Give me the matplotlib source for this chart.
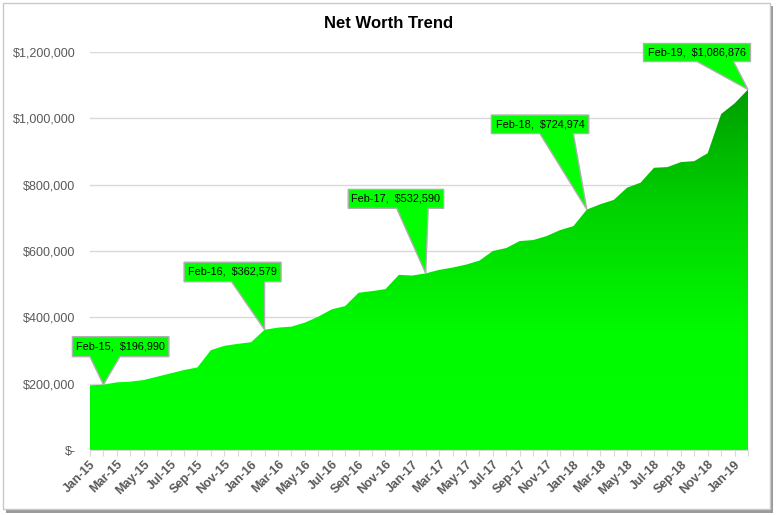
import numpy as np
import pandas as pd
import matplotlib
matplotlib.use("Agg")
import matplotlib.pyplot as plt
import matplotlib.transforms as mtransforms
from matplotlib.patches import Polygon, Rectangle
from matplotlib.colors import LinearSegmentedColormap
from matplotlib.ticker import FuncFormatter

# monthly net worth, Jan-15 .. Feb-19
months = pd.date_range("2015-01-01", periods=50, freq="MS").strftime("%b-%y").tolist()
net_worth = [
    195000, 196990, 204000, 206000, 211000, 221000, 231000, 241000, 249000, 301000, 314000, 320000,
    325000, 362579, 369000, 372000, 384000, 402000, 424000, 434000, 474000, 479000, 485000, 528000,
    526000, 532590, 543000, 550000, 559000, 571000, 600000, 609000, 630000, 633000, 645000, 663000,
    675000, 724974, 741000, 754000, 791000, 806000, 851000, 853000, 868000, 871000, 895000, 1013000,
    1045000, 1086876,
]
callout_months = ["Feb-15", "Feb-16", "Feb-17", "Feb-18", "Feb-19"]

# callout box / wedge shape in pixels relative to the point (x0, x1, y_bottom, y_top, wedge_left, wedge_right)
callout_shapes = [
    (-31, 65.5, 28, 48, -13.5, 16.5),
    (-80.5, 16.5, 48, 67.5, -33, 0),
    (-77.5, 18, 65, 84, -29, 2.5),
    (-95.5, 2, 76, 94.5, -47, -13.5),
    (-104.5, 2.5, 28, 46, -51, -14.5),
]

plt.rcParams["font.family"] = ["Liberation Sans", "DejaVu Sans"]

fig = plt.figure(figsize=(7.78, 5.15), dpi=100)

# outer chart frame with a small drop shadow
fig.patches.append(Rectangle((6 / 778, 1 - 513 / 515), 767 / 778, 507 / 515, transform=fig.transFigure,
                             facecolor="#9a9a9a", edgecolor="none", zorder=0))
fig.patches.append(Rectangle((3 / 778, 1 - 509 / 515), 767 / 778, 506 / 515, transform=fig.transFigure,
                             facecolor="white", edgecolor="#c8c8c8", lw=1, zorder=1))

ax = fig.add_axes([90 / 778, 1 - 450 / 515, 658 / 778, 398 / 515])
ax.set_facecolor("none")
ax.set_zorder(2)

x = np.arange(len(net_worth))
ax.set_xlim(0, len(net_worth) - 1)
ax.set_ylim(0, 1200000)

# gradient area
cmap = LinearSegmentedColormap.from_list("nw", [(0, "#00ff00"), (0.3, "#00fa00"), (0.6, "#00d400"),
                                               (0.9, "#009e00"), (1.0, "#009400")])
grad = np.linspace(0, 1, 256).reshape(-1, 1)
im = ax.imshow(grad, cmap=cmap, origin="lower", aspect="auto",
               extent=[0, len(net_worth) - 1, 0, 1200000], zorder=2)
area = Polygon([(0, 0)] + list(zip(x, net_worth)) + [(len(net_worth) - 1, 0)],
               closed=True, facecolor="none", edgecolor="none", transform=ax.transData)
ax.add_patch(area)
im.set_clip_path(area)

# axes styling
ax.set_yticks(np.arange(0, 1200001, 200000))
ax.yaxis.set_major_formatter(FuncFormatter(lambda v, p: "$-" if v == 0 else "${:,.0f}".format(v)))
ax.grid(axis="y", color="#d9d9d9", lw=1, zorder=1)
for s in ["top", "right", "left"]:
    ax.spines[s].set_visible(False)
ax.spines["bottom"].set_color("#d9d9d9")
ax.spines["bottom"].set_zorder(3)
ax.tick_params(axis="y", length=0, pad=10.5, labelsize=9, labelcolor="#595959")
ax.set_xticks(x)
ax.set_xticklabels([m if i % 2 == 0 else "" for i, m in enumerate(months)])
ax.tick_params(axis="x", length=4, color="#d9d9d9", labelsize=9, labelcolor="#595959", pad=2)
for lab in ax.get_xticklabels():
    lab.set_rotation(45)
    lab.set_ha("right")
    lab.set_rotation_mode("anchor")
    lab.set_fontweight("bold")

# callouts
for name, (bx0, bx1, by0, by1, w0, w1) in zip(callout_months, callout_shapes):
    i = months.index(name)
    val = net_worth[i]
    trans = fig.dpi_scale_trans + mtransforms.ScaledTranslation(i, val, ax.transData)
    verts = [(bx0, by1), (bx1, by1), (bx1, by0), (w1, by0), (0, 0), (w0, by0), (bx0, by0)]
    verts = [(a / 100, b / 100) for a, b in verts]
    ax.add_patch(Polygon(verts, closed=True, facecolor="#00ff00", edgecolor="#b0b0b0", lw=1,
                         transform=trans, zorder=5, clip_on=False))
    ax.text((bx0 + bx1) / 200, (by0 + by1) / 200, "{},  ${:,.0f}".format(name, val),
            transform=trans, ha="center", va="center", fontsize=7.8, color="black", zorder=6)

fig.text(389 / 778, 1 - 24 / 515, "Net Worth Trend", ha="center", va="center",
         fontsize=12, fontweight="bold", color="black")

fig.savefig("out.png", dpi=100)
